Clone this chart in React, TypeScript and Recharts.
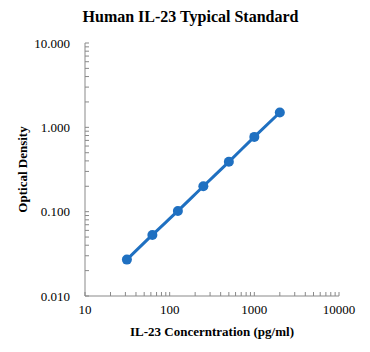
import React from "react";
import { LineChart, Line, XAxis, YAxis } from "recharts";

const concentrations = [31.25, 62.5, 125, 250, 500, 1000, 2000];
const opticalDensity = [0.027, 0.053, 0.102, 0.2, 0.39, 0.77, 1.5];

const xMajorTicks = [10, 100, 1000, 10000];
const xAllTicks = [
  10, 20, 30, 40, 50, 60, 70, 80, 90,
  100, 200, 300, 400, 500, 600, 700, 800, 900,
  1000, 2000, 3000, 4000, 5000, 6000, 7000, 8000, 9000, 10000,
];
const yMajorTicks = [0.01, 0.1, 1, 10];
const yAllTicks = [
  0.01, 0.02, 0.03, 0.04, 0.05, 0.06, 0.07, 0.08, 0.09,
  0.1, 0.2, 0.3, 0.4, 0.5, 0.6, 0.7, 0.8, 0.9,
  1, 2, 3, 4, 5, 6, 7, 8, 9, 10,
];

const title = "Human IL-23 Typical Standard";
const xTitle = "IL-23 Concerntration (pg/ml)";
const yTitle = "Optical Density";

const data = concentrations.map((c, i) => ({ x: c, y: opticalDensity[i] }));

const AXIS_COLOR = "#898989";
const LINE_COLOR = "#1f70c1";
const FONT = "'Liberation Serif', 'Times New Roman', serif";

const XTick = (props: any) => {
  const { x, y, payload } = props;
  const major = xMajorTicks.includes(payload.value);
  return (
    <g>
      <line x1={x} x2={x} y1={y} y2={y - 4} stroke={AXIS_COLOR} strokeWidth={1} />
      {major && (
        <text x={x} y={y + 18} textAnchor="middle" fontFamily={FONT} fontSize={13} fill="#000">
          {payload.value}
        </text>
      )}
    </g>
  );
};

const YTick = (props: any) => {
  const { x, y, payload } = props;
  const major = yMajorTicks.some((v) => Math.abs(v - payload.value) < 1e-9);
  return (
    <g>
      <line x1={x} x2={x + 4} y1={y} y2={y} stroke={AXIS_COLOR} strokeWidth={1} />
      {major && (
        <text x={x - 15} y={y + 4.5} textAnchor="end" fontFamily={FONT} fontSize={13} fill="#000">
          {Number(payload.value).toFixed(3)}
        </text>
      )}
    </g>
  );
};

export default function App() {
  return (
    <div style={{ position: "absolute", left: 0, top: 0, width: 370, height: 352, background: "#fff" }}>
      <div
        style={{
          position: "absolute",
          left: 0,
          top: 7,
          width: 381,
          textAlign: "center",
          fontFamily: FONT,
          fontWeight: "bold",
          fontSize: 16,
          lineHeight: "20px",
          color: "#000",
        }}
      >
        {title}
      </div>
      <LineChart
        width={370}
        height={352}
        data={data}
        margin={{ top: 43, right: 31, bottom: 0, left: 0 }}
      >
        <XAxis
          dataKey="x"
          type="number"
          scale="log"
          domain={[10, 10000]}
          allowDataOverflow
          ticks={xAllTicks}
          interval={0}
          tickSize={0}
          tickMargin={0}
          tickLine={false}
          tick={<XTick />}
          axisLine={{ stroke: AXIS_COLOR, strokeWidth: 1 }}
          height={56}
          label={{
            value: xTitle,
            position: "insideBottom",
            offset: 16,
            style: { fontFamily: FONT, fontWeight: "bold", fontSize: 13, fill: "#000" },
          }}
        />
        <YAxis
          dataKey="y"
          type="number"
          scale="log"
          domain={[0.01, 10]}
          allowDataOverflow
          ticks={yAllTicks}
          interval={0}
          tickSize={0}
          tickMargin={0}
          tickLine={false}
          tick={<YTick />}
          axisLine={{ stroke: AXIS_COLOR, strokeWidth: 1 }}
          width={85}
          label={{
            value: yTitle,
            angle: -90,
            position: "insideLeft",
            offset: 0,
            content: (p: any) => {
              const vb = p.viewBox || {};
              const cx = 22;
              const cy = (vb.y ?? 43) + (vb.height ?? 253) / 2;
              return (
                <text
                  x={cx}
                  y={cy}
                  transform={`rotate(-90 ${cx} ${cy})`}
                  textAnchor="middle"
                  dominantBaseline="central"
                  fontFamily={FONT}
                  fontWeight="bold"
                  fontSize={13}
                  fill="#000"
                >
                  {yTitle}
                </text>
              );
            },
          }}
        />
        <Line
          type="monotone"
          dataKey="y"
          stroke={LINE_COLOR}
          strokeWidth={3}
          dot={{ r: 5, fill: LINE_COLOR, stroke: LINE_COLOR, strokeWidth: 0 }}
          isAnimationActive={false}
        />
      </LineChart>
    </div>
  );
}
